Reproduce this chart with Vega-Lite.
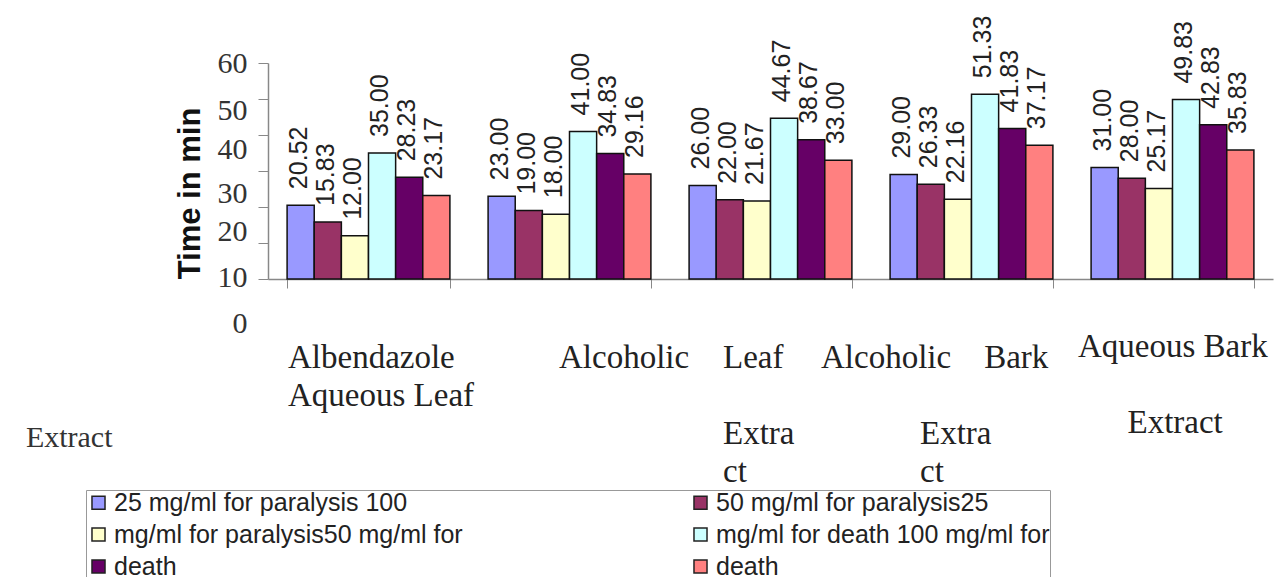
{
  "$schema": "https://vega.github.io/schema/vega-lite/v6.json",
  "width": 1005,
  "height": 216,
  "autosize": {"type": "none"},
  "padding": {"left": 268, "top": 63, "right": 8, "bottom": 298},
  "background": "white",
  "config": {"view": {"stroke": null}},
  "data": {
    "values": [
      {"extract": "Albendazole", "series": "25 mg/ml for paralysis", "time": 20.52},
      {"extract": "Albendazole", "series": "50 mg/ml for paralysis", "time": 15.83},
      {"extract": "Albendazole", "series": "100 mg/ml for paralysis", "time": 12.00},
      {"extract": "Albendazole", "series": "25 mg/ml for death", "time": 35.00},
      {"extract": "Albendazole", "series": "50 mg/ml for death", "time": 28.23},
      {"extract": "Albendazole", "series": "100 mg/ml for death", "time": 23.17},
      {"extract": "Aqueous Leaf Extract", "series": "25 mg/ml for paralysis", "time": 23.00},
      {"extract": "Aqueous Leaf Extract", "series": "50 mg/ml for paralysis", "time": 19.00},
      {"extract": "Aqueous Leaf Extract", "series": "100 mg/ml for paralysis", "time": 18.00},
      {"extract": "Aqueous Leaf Extract", "series": "25 mg/ml for death", "time": 41.00},
      {"extract": "Aqueous Leaf Extract", "series": "50 mg/ml for death", "time": 34.83},
      {"extract": "Aqueous Leaf Extract", "series": "100 mg/ml for death", "time": 29.16},
      {"extract": "Alcoholic Leaf Extract", "series": "25 mg/ml for paralysis", "time": 26.00},
      {"extract": "Alcoholic Leaf Extract", "series": "50 mg/ml for paralysis", "time": 22.00},
      {"extract": "Alcoholic Leaf Extract", "series": "100 mg/ml for paralysis", "time": 21.67},
      {"extract": "Alcoholic Leaf Extract", "series": "25 mg/ml for death", "time": 44.67},
      {"extract": "Alcoholic Leaf Extract", "series": "50 mg/ml for death", "time": 38.67},
      {"extract": "Alcoholic Leaf Extract", "series": "100 mg/ml for death", "time": 33.00},
      {"extract": "Alcoholic Bark Extract", "series": "25 mg/ml for paralysis", "time": 29.00},
      {"extract": "Alcoholic Bark Extract", "series": "50 mg/ml for paralysis", "time": 26.33},
      {"extract": "Alcoholic Bark Extract", "series": "100 mg/ml for paralysis", "time": 22.16},
      {"extract": "Alcoholic Bark Extract", "series": "25 mg/ml for death", "time": 51.33},
      {"extract": "Alcoholic Bark Extract", "series": "50 mg/ml for death", "time": 41.83},
      {"extract": "Alcoholic Bark Extract", "series": "100 mg/ml for death", "time": 37.17},
      {"extract": "Aqueous Bark Extract", "series": "25 mg/ml for paralysis", "time": 31.00},
      {"extract": "Aqueous Bark Extract", "series": "50 mg/ml for paralysis", "time": 28.00},
      {"extract": "Aqueous Bark Extract", "series": "100 mg/ml for paralysis", "time": 25.17},
      {"extract": "Aqueous Bark Extract", "series": "25 mg/ml for death", "time": 49.83},
      {"extract": "Aqueous Bark Extract", "series": "50 mg/ml for death", "time": 42.83},
      {"extract": "Aqueous Bark Extract", "series": "100 mg/ml for death", "time": 35.83}
    ]
  },
  "encoding": {
    "x": {
      "field": "extract",
      "type": "nominal",
      "sort": ["Albendazole", "Aqueous Leaf Extract", "Alcoholic Leaf Extract", "Alcoholic Bark Extract", "Aqueous Bark Extract"],
      "scale": {"paddingInner": 0.19, "paddingOuter": 0.095},
      "axis": {
        "title": null,
        "labelAngle": 0,
        "tickBand": "extent",
        "tickSize": 9,
        "tickColor": "#888",
        "domainColor": "#888",
        "domainWidth": 1.5,
        "labelFont": "Liberation Serif",
        "labelFontSize": 33,
        "labelColor": "#222",
        "labelLineHeight": 38,
        "labelAlign": "left",
        "labelBaseline": "top",
        "labelLimit": 1000,
        "labelOverlap": false,
        "labelPadding": {"expr": "datum.value == 'Aqueous Bark Extract' ? 42 : 53"},
        "labelOffset": {"expr": "datum.value == 'Albendazole' ? -81 : datum.value == 'Aqueous Leaf Extract' ? -11 : datum.value == 'Alcoholic Leaf Extract' ? -48 : datum.value == 'Alcoholic Bark Extract' ? -151 : -95"},
        "labelExpr": "datum.label == 'Albendazole' ? ['Albendazole', 'Aqueous Leaf'] : datum.label == 'Aqueous Leaf Extract' ? ['Alcoholic'] : datum.label == 'Alcoholic Leaf Extract' ? ['Leaf', '\u200b', 'Extra', 'ct'] : datum.label == 'Alcoholic Bark Extract' ? ['Alcoholic\u00a0\u00a0\u00a0\u00a0Bark', '\u200b', '\u200b\u00a0\u00a0\u00a0\u00a0\u00a0\u00a0\u00a0\u00a0\u00a0\u00a0\u00a0\u00a0Extra', '\u200b\u00a0\u00a0\u00a0\u00a0\u00a0\u00a0\u00a0\u00a0\u00a0\u00a0\u00a0\u00a0ct'] : datum.label == 'Aqueous Bark Extract' ? ['Aqueous Bark', '\u200b', '\u200b\u00a0\u00a0\u00a0\u00a0\u00a0\u00a0Extract'] : ''"
      }
    },
    "xOffset": {
      "field": "series",
      "type": "nominal",
      "sort": ["25 mg/ml for paralysis", "50 mg/ml for paralysis", "100 mg/ml for paralysis", "25 mg/ml for death", "50 mg/ml for death", "100 mg/ml for death"],
      "scale": {"paddingInner": 0, "paddingOuter": 0}
    },
    "y": {
      "field": "time",
      "type": "quantitative",
      "scale": {"domain": [0, 60], "nice": false},
      "axis": {
        "values": [0, 10, 20, 30, 40, 50, 60],
        "title": "Time in min",
        "titleFont": "Liberation Sans",
        "titleFontSize": 31,
        "titleFontWeight": "bold",
        "titleColor": "#111",
        "titleX": -78,
        "titleY": 130,
        "titleAngle": 270,
        "titleAlign": "center",
        "titleBaseline": "middle",
        "labelFont": "Liberation Serif",
        "labelFontSize": 30,
        "labelColor": "#333",
        "labelPadding": 11,
        "labelLimit": 1000,
        "tickSize": 10,
        "tickColor": "#888",
        "domainColor": "#888",
        "domainWidth": 1.5,
        "grid": false,
        "labelOverlap": false,
        "labelFlush": false,
        "labelBound": false,
        "labelLineHeight": 38,
        "labelExpr": "datum.value == 0 ? ['0', '\u200b', '\u200b', 'Extract\u00a0\u00a0\u00a0\u00a0\u00a0\u00a0\u00a0\u00a0\u00a0\u00a0\u00a0\u00a0\u00a0\u00a0\u00a0\u00a0\u00a0\u00a0\u200b'] : datum.label",
        "labelOffset": {"expr": "datum.value == 50 ? 11 : datum.value == 40 ? 14 : datum.value == 30 ? 22 : datum.value == 20 ? 24 : datum.value == 10 ? 34 : datum.value == 0 ? 44 : 0"}
      }
    }
  },
  "layer": [
    {
      "mark": {"type": "bar", "stroke": "#111", "strokeWidth": 1.5},
      "encoding": {
        "color": {
          "field": "series",
          "type": "nominal",
          "sort": ["25 mg/ml for paralysis", "50 mg/ml for paralysis", "100 mg/ml for paralysis", "25 mg/ml for death", "50 mg/ml for death", "100 mg/ml for death"],
          "scale": {
            "domain": ["25 mg/ml for paralysis", "50 mg/ml for paralysis", "100 mg/ml for paralysis", "25 mg/ml for death", "50 mg/ml for death", "100 mg/ml for death"],
            "range": ["#9999FF", "#993366", "#FFFFCC", "#CCFFFF", "#660066", "#FF8080"]
          },
          "legend": {
            "orient": "none",
            "legendX": -182,
            "legendY": 427,
            "direction": "horizontal",
            "columns": 2,
            "title": null,
            "symbolType": "square",
            "symbolSize": 170,
            "symbolStrokeColor": "#222",
            "symbolStrokeWidth": 1.5,
            "labelFont": "Liberation Sans",
            "labelFontSize": 25,
            "labelColor": "#222",
            "labelLimit": 1000,
            "labelOffset": 3,
            "rowPadding": 6,
            "columnPadding": 225,
            "padding": 0,
            "strokeColor": "#999",
            "fillColor": "white",
            "labelExpr": "datum.label == '25 mg/ml for paralysis' ? '25 mg/ml for paralysis 100' : datum.label == '50 mg/ml for paralysis' ? '50 mg/ml for paralysis25' : datum.label == '100 mg/ml for paralysis' ? 'mg/ml for paralysis50 mg/ml for' : datum.label == '25 mg/ml for death' ? 'mg/ml for death 100 mg/ml for' : 'death'"
          }
        }
      }
    },
    {
      "mark": {"type": "text", "angle": 270, "align": "left", "baseline": "middle", "dx": 16, "dy": -2, "font": "Liberation Sans", "fontSize": 25, "fill": "#222"},
      "encoding": {
        "text": {"field": "time", "type": "quantitative", "format": ".2f"}
      }
    }
  ]
}
